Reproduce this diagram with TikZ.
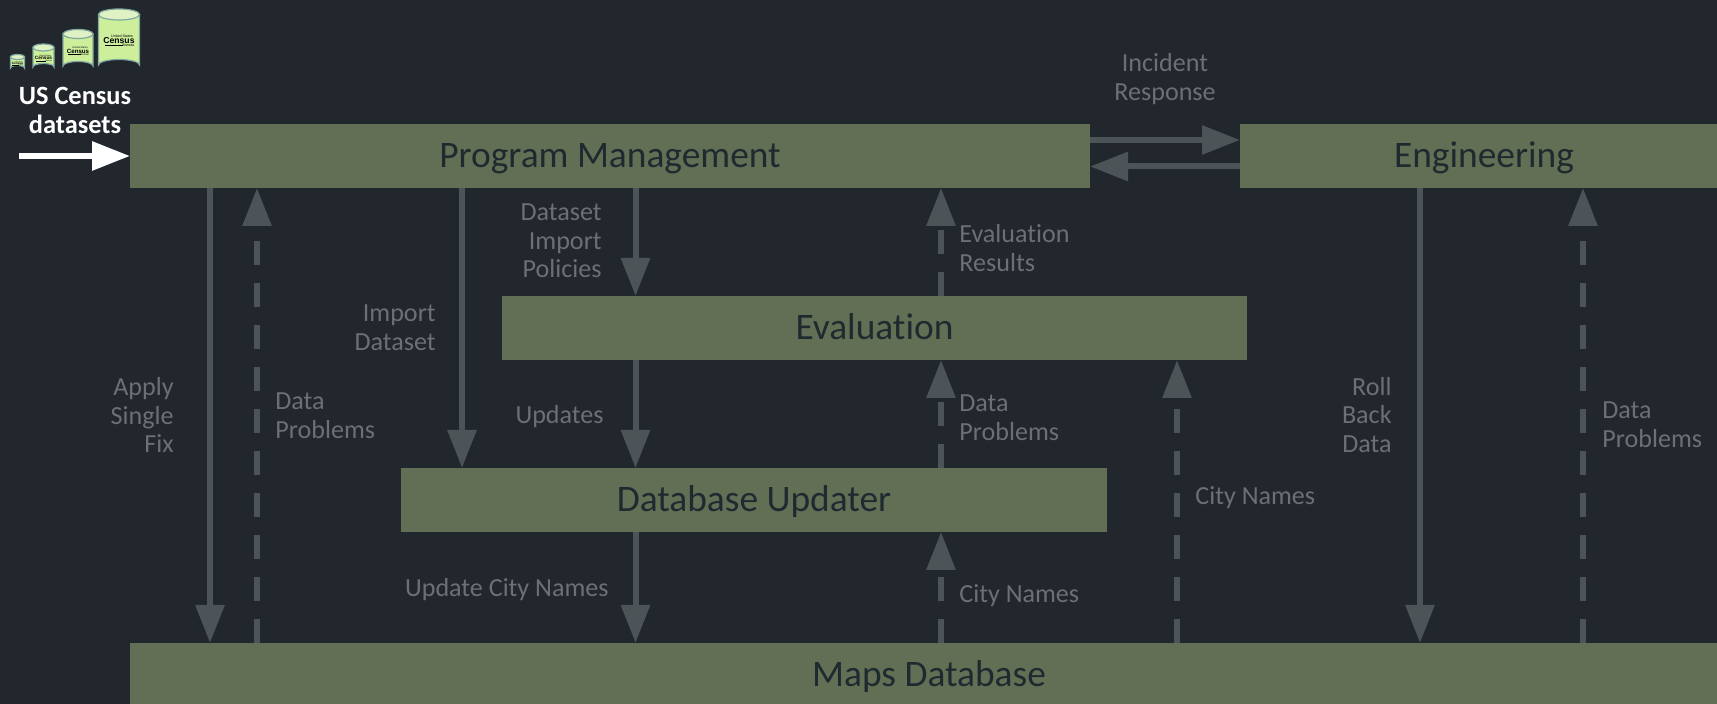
\documentclass[tikz,border=0pt]{standalone}
\usepackage{fontspec}
\setmainfont[Ligatures=NoCommon]{Carlito}
\setsansfont{Liberation Sans}
\usepackage{xcolor}
\usetikzlibrary{arrows.meta}
\definecolor{bgdark}{HTML}{22272D}
\definecolor{boxgreen}{HTML}{626F54}
\definecolor{boxtext}{HTML}{1F2A30}
\definecolor{flowgray}{HTML}{4C5458}
\definecolor{labelgray}{HTML}{6C7074}
\definecolor{canfill}{HTML}{CDEE9B}
\definecolor{cantop}{HTML}{E0F2C4}
\definecolor{canedge}{HTML}{7FA8A0}
\tikzset{
	box/.style={fill=boxgreen,text=boxtext,inner sep=0pt,outer sep=0pt,minimum height=32pt,text height=14pt,text depth=2.5pt,font=\fontsize{18.7}{21}\selectfont},
	flow/.style={draw=flowgray,line width=3pt,-{Triangle[length=19pt,width=14pt]}},
	flowdash/.style={flow,dash pattern=on 12pt off 9pt},
	lbl/.style={text=labelgray,inner sep=0pt,font=\fontsize{13.05}{14.3}\selectfont},
	lblr/.style={lbl,anchor=east,align=right},
	lbll/.style={lbl,anchor=west,align=left},
	logo/.style={inner sep=0pt,text=black,font=\sffamily},
}
\newcommand{\censuscan}[6]{
	\fill[canfill,draw=canedge,line width=0.6pt] (#1,#2) -- (#1,#3) arc[start angle=180,end angle=360,x radius=#4,y radius=#5] -- (#1+2*#4,#2) -- cycle;
	\fill[cantop,draw=canedge,line width=0.6pt] (#1+#4,#2) ellipse[x radius=#4,y radius=#5];
	\pgfmathsetmacro{\cx}{#1+#4}
	\pgfmathsetmacro{\cy}{(#2+#3)/2+1}
	\node[logo,scale=#6] (#6a) at (\cx+3*#6,\cy-5*#6) {\fontsize{1.8}{2}\selectfont United States};
	\node[logo,scale=#6] (#6b) at (\cx,\cy) {\bfseries\fontsize{4.3}{5}\selectfont Census};
	\fill[black] (\cx-14.5*#6,\cy+4.2*#6) rectangle (\cx+4*#6,\cy+5.6*#6);
	\node[logo,scale=#6] (#6c) at (\cx+9.5*#6,\cy+5*#6) {\fontsize{1.8}{2}\selectfont Bureau};
}
\begin{document}
\begin{tikzpicture}[x=0.5pt,y=-0.5pt]
	\useasboundingbox (0,0) rectangle (1717,704);
	\clip (0,0) rectangle (1717,704);
	\fill[bgdark] (0,0) rectangle (1717,704);
	\censuscan{10.5}{57}{68}{7}{2.5}{0.37}
	\censuscan{33}{47.5}{67}{10.5}{3.5}{0.55}
	\censuscan{63}{34}{66}{15}{4.5}{0.71}
	\censuscan{98.5}{14.5}{65}{20.5}{5.5}{1}
	\node[text=white,inner sep=0pt,align=center,font=\fontsize{13.2}{14.5}\selectfont\bfseries] (census) at (75,110) {US Census\\datasets};
	\coordinate (S) at (19,156);
	\node[box,minimum width=480pt] (pm) at (610,156) {Program Management};
	\node[box,minimum width=244pt] (eng) at (1484,156) {Engineering};
	\node[box,minimum width=372.5pt] (eval) at (874.5,328) {Evaluation};
	\node[box,minimum width=353pt] (upd) at (754,500) {Database Updater};
	\node[box,minimum width=799pt] (maps) at (929,675) {Maps Database};
	\coordinate (A) at (210,0);
	\coordinate (B) at (257,0);
	\coordinate (C) at (462,0);
	\coordinate (D) at (635.5,0);
	\coordinate (E) at (941,0);
	\coordinate (F) at (1177,0);
	\coordinate (G) at (1420,0);
	\coordinate (H) at (1583,0);
	\coordinate (I) at (0,140);
	\coordinate (J) at (0,166.5);
	\draw[flow,draw=white] (S) -- (pm.west);
	\draw[flow] (pm.east |- I) -- (eng.west |- I);
	\draw[flow] (eng.west |- J) -- (pm.east |- J);
	\draw[flow] (pm.south -| A) -- (maps.north -| A);
	\draw[flowdash] (maps.north -| B) -- (pm.south -| B);
	\draw[flow] (pm.south -| C) -- (upd.north -| C);
	\draw[flow] (pm.south -| D) -- (eval.north -| D);
	\draw[flowdash] (eval.north -| E) -- (pm.south -| E);
	\draw[flow] (eval.south -| D) -- (upd.north -| D);
	\draw[flowdash] (upd.north -| E) -- (eval.south -| E);
	\draw[flowdash] (maps.north -| F) -- (eval.south -| F);
	\draw[flow] (upd.south -| D) -- (maps.north -| D);
	\draw[flowdash] (maps.north -| E) -- (upd.south -| E);
	\draw[flow] (eng.south -| G) -- (maps.north -| G);
	\draw[flowdash] (maps.north -| H) -- (eng.south -| H);
	\node[lbl,align=center] (l1) at (1165,79) {Incident\\Response};
	\node[lblr] (l2) at (602,241) {Dataset\\Import\\Policies};
	\node[lblr] (l3) at (436,328) {Import\\Dataset};
	\node[lblr] (l4) at (174,415) {Apply\\Single\\Fix};
	\node[lbll] (l5) at (275,416) {Data\\Problems};
	\node[lbll] (l6) at (959,248) {Evaluation\\Results};
	\node[lblr] (l7) at (604,416.5) {Updates};
	\node[lbll] (l8) at (959,418) {Data\\Problems};
	\node[lbll] (l9) at (1195,498) {City Names};
	\node[lblr] (l10) at (609,589.5) {Update City Names};
	\node[lbll] (l11) at (959,596) {City Names};
	\node[lblr] (l12) at (1392,415) {Roll\\Back\\Data};
	\node[lbll] (l13) at (1602,425) {Data\\Problems};
\end{tikzpicture}
\end{document}
